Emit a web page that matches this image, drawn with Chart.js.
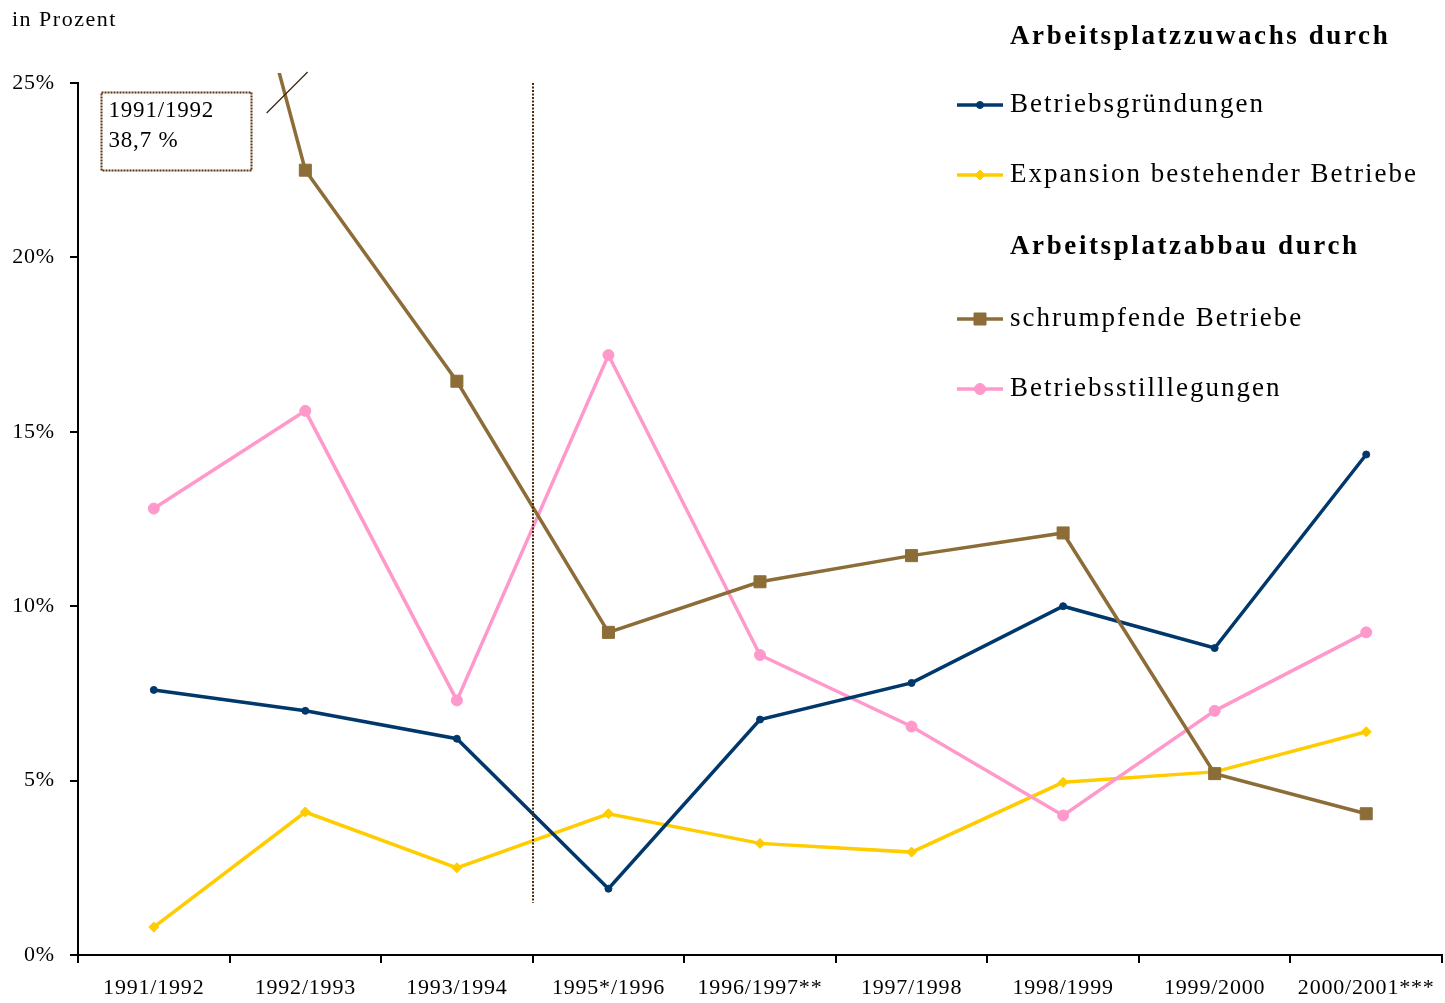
<!DOCTYPE html>
<html>
<head>
<meta charset="utf-8">
<script src="https://cdn.jsdelivr.net/npm/chart.js@4/dist/chart.umd.min.js"></script>
<style>
  html, body { margin: 0; padding: 0; background: #fff; }
  #wrap { width: 1445px; height: 1003px; position: relative; }
</style>
</head>
<body>
<div id="wrap"><canvas id="c" width="1445" height="1003"></canvas></div>
<script>
// ---- data ----
const categories = ['1991/1992', '1992/1993', '1993/1994', '1995*/1996', '1996/1997**', '1997/1998', '1998/1999', '1999/2000', '2000/2001***'];
const betriebsgruendungen = [7.6, 7.0, 6.2, 1.9, 6.75, 7.8, 10.0, 8.8, 14.35];
const expansion = [0.8, 4.1, 2.5, 4.05, 3.2, 2.95, 4.95, 5.25, 6.4];
const schrumpfende = [38.7, 22.5, 16.45, 9.25, 10.7, 11.45, 12.1, 5.2, 4.05];
const stilllegungen = [12.8, 15.6, 7.3, 17.2, 8.6, 6.55, 4.0, 7.0, 9.25];
const yTicks = [0, 5, 10, 15, 20, 25];
const seriesNames = ['Betriebsgründungen', 'Expansion bestehender Betriebe', 'schrumpfende Betriebe', 'Betriebsstilllegungen'];
const legendHeaders = ['Arbeitsplatzzuwachs durch', 'Arbeitsplatzabbau durch'];
const yAxisTitle = 'in Prozent';
const noteLines = ['1991/1992', '38,7 %'];

const FONT = '"Liberation Serif", "Times New Roman", serif';
const colors = ['#00386b', '#ffcc00', '#8c6d38', '#ff99cc'];
const styles = [
  { pointStyle: 'circle', pointRadius: 3.5 },
  { pointStyle: 'rectRot', pointRadius: 5 },
  { pointStyle: 'rect', pointRadius: 8.5 },
  { pointStyle: 'circle', pointRadius: 5.5 }
];
const drawOrder = [1, 3, 0, 2];
const seriesData = [betriebsgruendungen, expansion, schrumpfende, stilllegungen];

const datasets = seriesData.map((d, i) => ({
  label: seriesNames[i],
  data: d,
  order: drawOrder[i],
  borderColor: colors[i],
  backgroundColor: colors[i],
  pointBackgroundColor: colors[i],
  pointBorderColor: colors[i],
  borderWidth: 3.5,
  pointBorderWidth: 1,
  pointStyle: styles[i].pointStyle,
  pointRadius: styles[i].pointRadius,
  tension: 0,
  clip: i === 2 ? { left: 0, top: 10, right: 0, bottom: 0 } : 0
}));

const decoPlugin = {
  id: 'deco',
  beforeDraw(chart) {
    const ctx = chart.ctx;
    ctx.save();
    ctx.fillStyle = '#fff';
    ctx.fillRect(0, 0, chart.width, chart.height);
    ctx.restore();
    try { ctx.letterSpacing = '0.8px'; } catch (e) {}
  },
  afterDatasetsDraw(chart) {
    const ctx = chart.ctx;
    const area = chart.chartArea;
    const xs = chart.scales.x, ys = chart.scales.y;
    ctx.save();
    // vertical dotted separator between 1993/1994 and 1995*/1996
    const vx = Math.round(xs.getPixelForValue(2.5));
    ctx.strokeStyle = '#4a2a0c';
    ctx.lineWidth = 2;
    ctx.setLineDash([2, 1.5]);
    ctx.beginPath();
    ctx.moveTo(vx, area.top);
    ctx.lineTo(vx, ys.getPixelForValue(1.5));
    ctx.stroke();

    // break mark on the schrumpfende line
    const meta = chart.getDatasetMeta(2);
    const p0 = meta.data[0], p1 = meta.data[1];
    const cy = area.top + 10;
    const t = (cy - p0.y) / (p1.y - p0.y);
    const cx = p0.x + t * (p1.x - p0.x) + 2;
    ctx.setLineDash([]);
    ctx.strokeStyle = '#3d2610';
    ctx.lineWidth = 1.3;
    ctx.beginPath();
    ctx.moveTo(cx - 20, cy + 20);
    ctx.lineTo(cx + 21, cy - 21);
    ctx.stroke();

    // note box
    const bx = area.left + 23.5, by = area.top + 9.5, bw = 150, bh = 78;
    ctx.setLineDash([2, 1]);
    ctx.strokeStyle = '#5a3412';
    ctx.lineWidth = 2;
    ctx.strokeRect(bx, by, bw, bh);
    ctx.setLineDash([]);
    ctx.fillStyle = '#000';
    ctx.font = '23px ' + FONT;
    ctx.textAlign = 'left';
    ctx.textBaseline = 'middle';
    try { ctx.letterSpacing = '0.8px'; } catch (e) {}
    ctx.fillText(noteLines[0], bx + 7, by + 18);
    ctx.fillText(noteLines[1], bx + 7, by + 48);

    // axis title
    try { ctx.letterSpacing = '1.5px'; } catch (e) {}
    ctx.font = '22px ' + FONT;
    ctx.fillText(yAxisTitle, 12, 20);

    // legend
    const lx = 1010, mx0 = 957, mx1 = 1003;
    const rows = [
      { type: 'h', text: legendHeaders[0], y: 37 },
      { type: 's', i: 0, y: 105 },
      { type: 's', i: 1, y: 175 },
      { type: 'h', text: legendHeaders[1], y: 247 },
      { type: 's', i: 2, y: 319 },
      { type: 's', i: 3, y: 389 }
    ];
    rows.forEach(r => {
      if (r.type === 'h') {
        try { ctx.letterSpacing = '2.6px'; } catch (e) {}
        ctx.font = 'bold 27px ' + FONT;
        ctx.fillStyle = '#000';
        ctx.fillText(r.text, lx, r.y);
      } else {
        ctx.strokeStyle = colors[r.i];
        ctx.lineWidth = 3.5;
        ctx.beginPath();
        ctx.moveTo(mx0, r.y);
        ctx.lineTo(mx1, r.y);
        ctx.stroke();
        ctx.fillStyle = colors[r.i];
        ctx.strokeStyle = colors[r.i];
        ctx.lineWidth = 1;
        Chart.helpers.drawPoint(ctx, {
          pointStyle: styles[r.i].pointStyle,
          radius: styles[r.i].pointRadius,
          rotation: 0,
          borderWidth: 1
        }, (mx0 + mx1) / 2, r.y);
        try { ctx.letterSpacing = '2px'; } catch (e) {}
        ctx.font = '27px ' + FONT;
        ctx.fillStyle = '#000';
        ctx.fillText(seriesNames[r.i], lx, r.y);
      }
    });
    ctx.restore();
  }
};

new Chart(document.getElementById('c'), {
  type: 'line',
  data: { labels: categories, datasets },
  plugins: [decoPlugin],
  options: {
    responsive: false,
    animation: false,
    devicePixelRatio: 1,
    layout: { autoPadding: false, padding: { top: 83, right: 3, left: 0, bottom: 0 } },
    plugins: { legend: { display: false }, tooltip: { enabled: false } },
    scales: {
      x: {
        type: 'category',
        offset: true,
        afterFit(s) { s.height = 48; s.paddingLeft = 0; s.paddingRight = 0; },
        grid: { display: true, drawOnChartArea: false, drawTicks: true, tickLength: 8, offset: true, color: '#000', lineWidth: 2 },
        border: { display: true, color: '#000', width: 2 },
        ticks: { color: '#000', font: { family: FONT, size: 22 }, padding: 12, maxRotation: 0, autoSkip: false }
      },
      y: {
        min: 0, max: 25,
        afterFit(s) { s.width = 78; s.paddingTop = 0; s.paddingBottom = 0; },
        afterBuildTicks(s) { s.ticks = yTicks.map(v => ({ value: v })); },
        grid: { display: true, drawOnChartArea: false, drawTicks: true, tickLength: 8, color: '#000', lineWidth: 2 },
        border: { display: true, color: '#000', width: 2 },
        ticks: { color: '#000', font: { family: FONT, size: 22 }, padding: 15, callback: v => v + '%' }
      }
    }
  }
});
</script>
</body>
</html>
